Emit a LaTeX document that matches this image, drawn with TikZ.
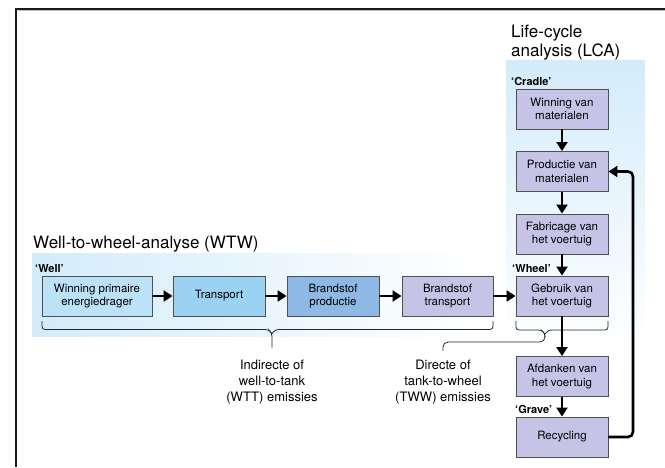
\documentclass[tikz,border=0pt]{standalone}
\usepackage{fontspec}
\setmainfont{TeX Gyre Heros}
\usetikzlibrary{arrows.meta,calc}
\definecolor{bgblue}{HTML}{D3ECFA}
\definecolor{boxA}{HTML}{BCE2F7}
\definecolor{boxB}{HTML}{9CD2F1}
\definecolor{boxC}{HTML}{8DB9E4}
\definecolor{boxL}{HTML}{C6C4E6}
\definecolor{edge}{HTML}{505050}
\begin{document}
\begin{tikzpicture}[x=1pt,y=-1pt,
 box/.style={draw=edge,line width=0.9pt,minimum height=40pt,align=center,
   font=\fontsize{11.5}{13.5}\selectfont,inner sep=2pt},
 flow/.style={line width=2.6pt,-{Triangle[length=9pt,width=11pt]}},
 brace/.style={line width=0.8pt,draw=black!85},
 ttl/.style={font=\fontsize{17}{20}\selectfont,inner sep=0pt},
 tag/.style={font=\bfseries\fontsize{11}{12}\selectfont,inner sep=0pt},
 note/.style={font=\fontsize{13}{16}\selectfont,align=center,inner sep=0pt}]

\useasboundingbox (0,0) rectangle (665,467);

% backgrounds
\shade[left color=bgblue,right color=white] (32,253) rectangle (480,336);
\shade[top color=bgblue,bottom color=white] (506,60) rectangle (645,345);

% frame
\draw[line width=0.8pt,black!25] (665,10.8) -- (17.5,10.8);
\draw[line width=1.3pt,black!90] (665,9) -- (16,9) -- (16,467);

% titles
\node[ttl,anchor=base west] (wtw) at (33,248) {Well-to-wheel-analyse (WTW)};
\node[ttl,anchor=base west] (lca1) at (511,37) {Life-cycle};
\node[ttl,anchor=base west] (lca2) at (511,56) {analysis (LCA)};

% tags
\node[tag,anchor=base west] (well) at (35,272) {‘Well’};
\node[tag,anchor=base west] (cradle) at (511,85) {‘Cradle’};
\node[tag,anchor=base west] (wheel) at (512,272) {‘Wheel’};
\node[tag,anchor=base west] (grave) at (515,413) {‘Grave’};

% WTW row
\node[box,fill=boxA,minimum width=110pt] (b1) at (97,296) {Winning primaire\\energiedrager};
\node[box,fill=boxB,minimum width=92pt] (b2) at (219,296) {Transport};
\node[box,fill=boxC,minimum width=92pt] (b3) at (333,296) {Brandstof\\productie};
\node[box,fill=boxL,minimum width=91pt] (b4) at (447.5,296) {Brandstof\\transport};
\node[box,fill=boxL,minimum width=92pt] (g) at (562,296) {Gebruik van\\het voertuig};

% LCA column
\node[box,fill=boxL,minimum width=92pt] (l1) at (562,109) {Winning van\\materialen};
\node[box,fill=boxL,minimum width=92pt] (l2) at (562,171.5) {Productie van\\materialen};
\node[box,fill=boxL,minimum width=92pt] (l3) at (562,234) {Fabricage van\\het voertuig};
\node[box,fill=boxL,minimum width=92pt] (l5) at (562,376.5) {Afdanken van\\het voertuig};
\node[box,fill=boxL,minimum width=92pt] (l6) at (562,437) {Recycling};

% notes
\node[note,anchor=north] (wtt) at (272,359.5) {Indirecte of\\well-to-tank\\(WTT) emissies};
\node[note,anchor=north] (tww) at (443,359.5) {Directe of\\tank-to-wheel\\(TWW) emissies};

% braces
\draw[brace,rounded corners=3pt] (42,321) -- (42,329.5) -- (268.5,329.5) -- (272,333.5) -- ($(wtt.north)+(0,-12)$);
\draw[brace,rounded corners=3pt] (493,321) -- (493,329.5) -- (275.5,329.5) -- (272,333.5);
\draw[brace,rounded corners=3pt] (516,321) -- (516,330) -- (541.5,330) -- (545,334) -- (545,337);
\draw[brace,rounded corners=3pt] (608,321) -- (608,330) -- (548.5,330) -- (545,334);
\draw[brace,rounded corners=5pt] (545,336) -- (545,342) -- (443,342) -- ($(tww.north)+(0,-9)$);

% flows
\draw[flow] (b1.east) -- (b2.west);
\draw[flow] (b2.east) -- (b3.west);
\draw[flow] (b3.east) -- (b4.west);
\draw[flow] (b4.east) -- (g.west);
\draw[flow] (l1.south) -- (l2.north);
\draw[flow] (l2.south) -- (l3.north);
\draw[flow] (l3.south) -- (g.north);
\draw[flow] (g.south) -- (l5.north);
\draw[flow] (l5.south) -- (l6.north);
\coordinate (ret) at (633,171.5);
\draw[flow,rounded corners=5pt] (l6.east) -| (ret) -- (l2.east);
\end{tikzpicture}
\end{document}
